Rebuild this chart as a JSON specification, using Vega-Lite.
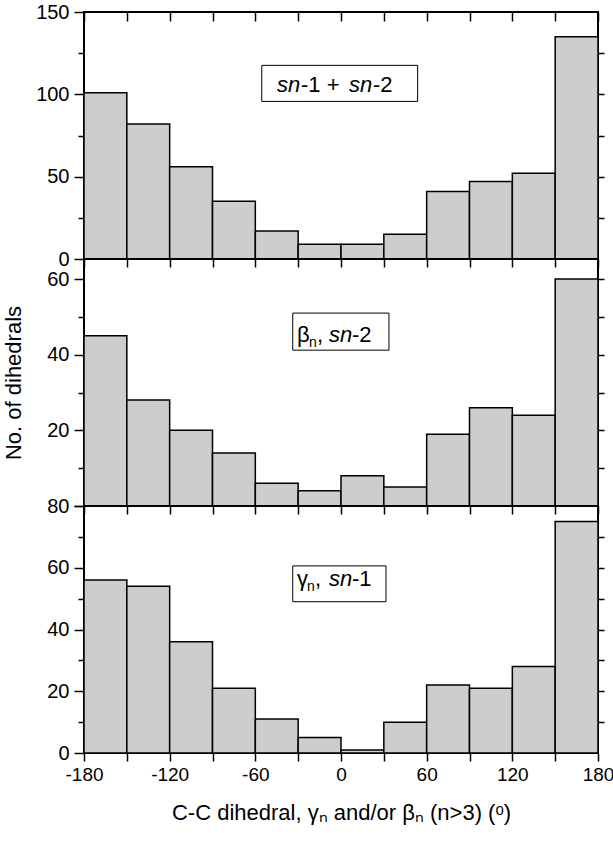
{
  "$schema": "https://vega.github.io/schema/vega-lite/v6.json",
  "padding": {"left": 1, "top": 1, "right": 0, "bottom": 5},
  "background": "white",
  "bounds": "flush",
  "spacing": 0,
  "config": {
    "font": "Liberation Sans",
    "view": {"stroke": "black", "strokeWidth": 2},
    "axis": {"domain": false, "grid": false, "labelColor": "black", "tickColor": "black", "tickWidth": 1.5, "labelFontSize": 20, "labelFlush": false, "labelPadding": 5, "titleColor": "black", "titleFontWeight": "normal"}
  },
  "datasets": {
    "top": [
      {"start": -180, "end": -150, "count": 101},
      {"start": -150, "end": -120, "count": 82},
      {"start": -120, "end": -90, "count": 56},
      {"start": -90, "end": -60, "count": 35},
      {"start": -60, "end": -30, "count": 17},
      {"start": -30, "end": 0, "count": 9},
      {"start": 0, "end": 30, "count": 9},
      {"start": 30, "end": 60, "count": 15},
      {"start": 60, "end": 90, "count": 41},
      {"start": 90, "end": 120, "count": 47},
      {"start": 120, "end": 150, "count": 52},
      {"start": 150, "end": 180, "count": 135}
    ],
    "mid": [
      {"start": -180, "end": -150, "count": 45},
      {"start": -150, "end": -120, "count": 28},
      {"start": -120, "end": -90, "count": 20},
      {"start": -90, "end": -60, "count": 14},
      {"start": -60, "end": -30, "count": 6},
      {"start": -30, "end": 0, "count": 4},
      {"start": 0, "end": 30, "count": 8},
      {"start": 30, "end": 60, "count": 5},
      {"start": 60, "end": 90, "count": 19},
      {"start": 90, "end": 120, "count": 26},
      {"start": 120, "end": 150, "count": 24},
      {"start": 150, "end": 180, "count": 60}
    ],
    "bot": [
      {"start": -180, "end": -150, "count": 56},
      {"start": -150, "end": -120, "count": 54},
      {"start": -120, "end": -90, "count": 36},
      {"start": -90, "end": -60, "count": 21},
      {"start": -60, "end": -30, "count": 11},
      {"start": -30, "end": 0, "count": 5},
      {"start": 0, "end": 30, "count": 1},
      {"start": 30, "end": 60, "count": 10},
      {"start": 60, "end": 90, "count": 22},
      {"start": 90, "end": 120, "count": 21},
      {"start": 120, "end": 150, "count": 28},
      {"start": 150, "end": 180, "count": 75}
    ],
    "one": [{}]
  },
  "vconcat": [
    {
      "width": 514, "height": 247,
      "resolve": {"axis": {"x": "independent", "y": "independent"}},
      "layer": [
        {
          "data": {"name": "top"},
          "mark": {"type": "rect", "fill": "#cdcdcd", "stroke": "black", "strokeWidth": 1.5},
          "encoding": {
            "x": {"field": "start", "type": "quantitative", "scale": {"domain": [-180, 180], "nice": false, "zero": false},
                  "axis": {"orient": "bottom", "values": [-180,-150,-120,-90,-60,-30,0,30,60,90,120,150,180], "labels": false, "tickSize": 8, "title": null}},
            "x2": {"field": "end"},
            "y": {"field": "count", "type": "quantitative", "scale": {"domain": [0, 150], "nice": false},
                  "axis": {"orient": "left", "values": [0, 50, 100, 150], "tickSize": 10, "title": null}},
            "y2": {"datum": 0}
          }
        },
        {
          "data": {"name": "one"},
          "mark": {"type": "rect", "fill": "white", "stroke": "black", "strokeWidth": 1},
          "encoding": {
            "x": {"datum": -55.5, "axis": {"orient": "top", "values": [-180,-150,-120,-90,-60,-30,0,30,60,90,120,150,180], "labels": false, "tickSize": -9, "title": null}},
            "x2": {"datum": 53.7},
            "y": {"datum": 117.6, "axis": {"orient": "left", "values": [25, 75, 125], "labels": false, "tickSize": 6, "title": null}},
            "y2": {"datum": 95.7}
          }
        },
        {
          "data": {"name": "one"},
          "mark": {"type": "text", "text": "sn", "fontStyle": "italic", "fontSize": 22, "align": "left", "baseline": "alphabetic", "dx": 0},
          "encoding": {
            "x": {"datum": -44.8, "axis": null},
            "y": {"datum": 101.4, "axis": {"orient": "right", "values": [25, 50, 75, 100, 125], "labels": false, "tickSize": 6, "title": null}}
          }
        },
        {
          "data": {"name": "one"},
          "mark": {"type": "text", "text": "-1 + ", "fontSize": 22, "align": "left", "baseline": "alphabetic", "dx": 24},
          "encoding": {"x": {"datum": -44.8, "axis": null}, "y": {"datum": 101.4, "axis": null}}
        },
        {
          "data": {"name": "one"},
          "mark": {"type": "text", "text": "sn", "fontStyle": "italic", "fontSize": 22, "align": "left", "baseline": "alphabetic", "dx": 72},
          "encoding": {"x": {"datum": -44.8, "axis": null}, "y": {"datum": 101.4, "axis": null}}
        },
        {
          "data": {"name": "one"},
          "mark": {"type": "text", "text": "-2", "fontSize": 22, "align": "left", "baseline": "alphabetic", "dx": 96},
          "encoding": {"x": {"datum": -44.8, "axis": null}, "y": {"datum": 101.4, "axis": null}}
        }
      ]
    },
    {
      "width": 514, "height": 247,
      "resolve": {"axis": {"x": "independent", "y": "independent"}},
      "layer": [
        {
          "data": {"name": "mid"},
          "mark": {"type": "rect", "fill": "#cdcdcd", "stroke": "black", "strokeWidth": 1.5},
          "encoding": {
            "x": {"field": "start", "type": "quantitative", "scale": {"domain": [-180, 180], "nice": false, "zero": false},
                  "axis": {"orient": "bottom", "values": [-180,-150,-120,-90,-60,-30,0,30,60,90,120,150,180], "labels": false, "tickSize": 8, "title": null}},
            "x2": {"field": "end"},
            "y": {"field": "count", "type": "quantitative", "scale": {"domain": [0, 65.3], "nice": false},
                  "axis": {"orient": "left", "values": [0, 20, 40, 60], "labelExpr": "datum.value === 0 ? '' : datum.label", "tickSize": 10, "title": "No. of dihedrals", "titleFontSize": 22, "titlePadding": 21}},
            "y2": {"datum": 0}
          }
        },
        {
          "data": {"name": "one"},
          "mark": {"type": "rect", "fill": "white", "stroke": "black", "strokeWidth": 1},
          "encoding": {
            "x": {"datum": -33.8, "axis": null},
            "x2": {"datum": 33.6},
            "y": {"datum": 51.0, "axis": {"orient": "left", "values": [10, 30, 50], "labels": false, "tickSize": 6, "title": null}},
            "y2": {"datum": 41.2}
          }
        },
        {
          "data": {"name": "one"},
          "mark": {"type": "text", "text": "β", "fontSize": 22, "align": "left", "baseline": "alphabetic", "dx": 0},
          "encoding": {
            "x": {"datum": -30.8, "axis": null},
            "y": {"datum": 43.3, "axis": {"orient": "right", "values": [10, 20, 30, 40, 50, 60], "labels": false, "tickSize": 6, "title": null}}
          }
        },
        {
          "data": {"name": "one"},
          "mark": {"type": "text", "text": "n", "fontSize": 14, "align": "left", "baseline": "alphabetic", "dx": 12, "dy": 5},
          "encoding": {"x": {"datum": -30.8, "axis": null}, "y": {"datum": 43.3, "axis": null}}
        },
        {
          "data": {"name": "one"},
          "mark": {"type": "text", "text": ",", "fontSize": 22, "align": "left", "baseline": "alphabetic", "dx": 20},
          "encoding": {"x": {"datum": -30.8, "axis": null}, "y": {"datum": 43.3, "axis": null}}
        },
        {
          "data": {"name": "one"},
          "mark": {"type": "text", "text": "sn", "fontStyle": "italic", "fontSize": 22, "align": "left", "baseline": "alphabetic", "dx": 32},
          "encoding": {"x": {"datum": -30.8, "axis": null}, "y": {"datum": 43.3, "axis": null}}
        },
        {
          "data": {"name": "one"},
          "mark": {"type": "text", "text": "-2", "fontSize": 22, "align": "left", "baseline": "alphabetic", "dx": 55},
          "encoding": {"x": {"datum": -30.8, "axis": null}, "y": {"datum": 43.3, "axis": null}}
        }
      ]
    },
    {
      "width": 514, "height": 247,
      "resolve": {"axis": {"x": "independent", "y": "independent"}},
      "layer": [
        {
          "data": {"name": "bot"},
          "mark": {"type": "rect", "fill": "#cdcdcd", "stroke": "black", "strokeWidth": 1.5},
          "encoding": {
            "x": {"field": "start", "type": "quantitative", "scale": {"domain": [-180, 180], "nice": false, "zero": false},
                  "axis": {"orient": "bottom", "values": [-180,-150,-120,-90,-60,-30,0,30,60,90,120,150,180], "labelExpr": "datum.value % 60 === 0 ? replace(datum.label, '−', '-') : ''", "tickSize": 8, "labelPadding": 4, "labelFontSize": 19,
                           "title": "C-C dihedral, γₙ and/or βₙ (n>3)  (ᵒ)", "titleFontSize": 22, "titlePadding": 18}},
            "x2": {"field": "end"},
            "y": {"field": "count", "type": "quantitative", "scale": {"domain": [0, 80], "nice": false},
                  "axis": {"orient": "left", "values": [0, 20, 40, 60, 80], "tickSize": 10, "title": null}},
            "y2": {"datum": 0}
          }
        },
        {
          "data": {"name": "one"},
          "mark": {"type": "rect", "fill": "white", "stroke": "black", "strokeWidth": 1},
          "encoding": {
            "x": {"datum": -33.8, "axis": null},
            "x2": {"datum": 31.5},
            "y": {"datum": 60.6, "axis": {"orient": "left", "values": [10, 30, 50, 70], "labels": false, "tickSize": 6, "title": null}},
            "y2": {"datum": 49.0}
          }
        },
        {
          "data": {"name": "one"},
          "mark": {"type": "text", "text": "γ", "fontSize": 22, "align": "left", "baseline": "alphabetic", "dx": 0},
          "encoding": {
            "x": {"datum": -30.8, "axis": null},
            "y": {"datum": 54.2, "axis": {"orient": "right", "values": [10, 20, 30, 40, 50, 60, 70], "labels": false, "tickSize": 6, "title": null}}
          }
        },
        {
          "data": {"name": "one"},
          "mark": {"type": "text", "text": "n", "fontSize": 14, "align": "left", "baseline": "alphabetic", "dx": 10, "dy": 5},
          "encoding": {"x": {"datum": -30.8, "axis": null}, "y": {"datum": 54.2, "axis": null}}
        },
        {
          "data": {"name": "one"},
          "mark": {"type": "text", "text": ",", "fontSize": 22, "align": "left", "baseline": "alphabetic", "dx": 18},
          "encoding": {"x": {"datum": -30.8, "axis": null}, "y": {"datum": 54.2, "axis": null}}
        },
        {
          "data": {"name": "one"},
          "mark": {"type": "text", "text": "sn", "fontStyle": "italic", "fontSize": 22, "align": "left", "baseline": "alphabetic", "dx": 32},
          "encoding": {"x": {"datum": -30.8, "axis": null}, "y": {"datum": 54.2, "axis": null}}
        },
        {
          "data": {"name": "one"},
          "mark": {"type": "text", "text": "-1", "fontSize": 22, "align": "left", "baseline": "alphabetic", "dx": 55},
          "encoding": {"x": {"datum": -30.8, "axis": null}, "y": {"datum": 54.2, "axis": null}}
        }
      ]
    }
  ]
}
